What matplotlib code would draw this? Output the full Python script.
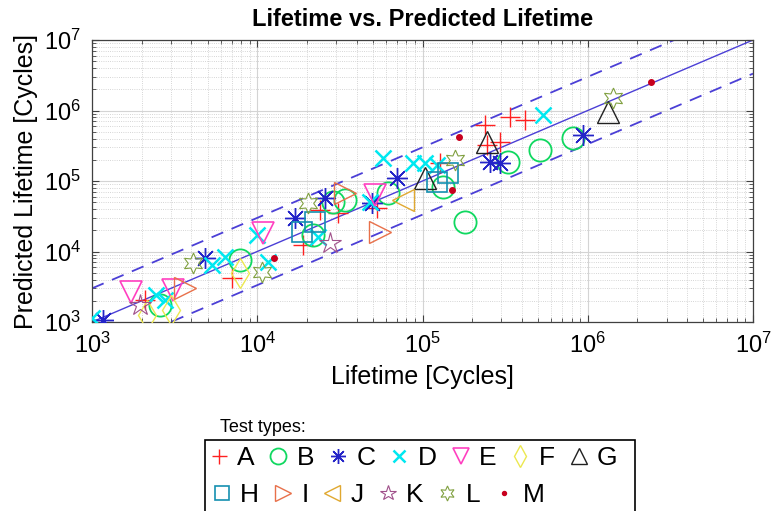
import numpy as np
import matplotlib.pyplot as plt
from matplotlib.patches import Rectangle

plt.rcParams['font.family'] = ['Liberation Sans', 'DejaVu Sans']

# lifetime (x) and predicted lifetime (y) per test type, in cycles
life_a = [2090, 7030, 18900, 23940, 30780, 52980, 127400, 238500, 245300, 294000, 338000, 416000]
pred_a = [2053, 4210, 12360, 38820, 35150, 41400, 180000, 622000, 324600, 357000, 809000, 733000]
life_b = [2580, 7860, 21730, 28720, 33940, 61800, 132800, 180500, 328600, 512600, 812000]
pred_b = [1742, 7570, 17130, 50350, 53760, 67600, 82200, 26200, 186100, 275400, 407700]
life_c = [1165, 4830, 16900, 25680, 49400, 70000, 255800, 294000, 933000]
pred_c = [1070, 8090, 29850, 57400, 48740, 110500, 186100, 180000, 448600]
life_d = [1000, 2440, 2765, 5320, 6380, 9950, 11600, 23300, 48100, 57500, 87500, 103400, 122300, 534500]
pred_d = [1140, 2416, 2053, 6440, 8360, 17130, 7100, 16060, 50350, 211800, 180000, 180000, 168600, 862000]
life_e = [1720, 3090, 10800, 51530]
pred_e = [2666, 2843, 18280, 63260]
life_f = [2150, 3010, 7860]
pred_f = [1257, 1481, 4950]
life_g = [103400, 245300, 1323000]
pred_g = [110500, 357000, 952000]
life_h = [18630, 22340, 122300, 142400]
pred_h = [18920, 26200, 96800, 129700]
life_i = [3650, 33940, 55240]
pred_i = [3035, 67600, 18920]
life_j = [76100]
pred_j = [53760]
life_k = [1950, 27540]
pred_k = [1742, 13210]
life_l = [4080, 10670, 20270, 157100, 1419000]
pred_l = [6870, 5120, 48740, 198600, 1504000]
life_m = [12620, 150600, 166100, 2410000]
pred_m = [8090, 74500, 420700, 2535000]

labels = ['A', 'B', 'C', 'D', 'E', 'F', 'G', 'H', 'I', 'J', 'K', 'L', 'M']
lifes = [life_a, life_b, life_c, life_d, life_e, life_f, life_g,
         life_h, life_i, life_j, life_k, life_l, life_m]
preds = [pred_a, pred_b, pred_c, pred_d, pred_e, pred_f, pred_g,
         pred_h, pred_i, pred_j, pred_k, pred_l, pred_m]

# marker, colour, size, edge width
styles = [
    ('+', '#ff2020', 15, 1.0),
    ('o', '#10d860', 16, 1.3),
    ((8, 2, 0), '#2424c8', 15, 1.0),
    ('x', '#00e8f0', 12, 1.8),
    ('v', '#ff40c0', 16, 1.2),
    ('d', '#ece850', 15, 1.0),
    ('^', '#202020', 16, 1.0),
    ('s', '#1590b0', 14, 1.2),
    ('>', '#e8704a', 16, 1.0),
    ('<', '#e0a830', 16, 1.0),
    ('*', '#a0508a', 16, 0.8),
    ((6, 1, 0), '#80a040', 15, 0.8),
    ('.', '#c8001e', 8, 1.0),
]

fig = plt.figure(figsize=(7.71, 5.11), dpi=100)
ax = fig.add_axes([92/771, 1-322/511, 661/771, 282/511])

line_col = '#4b3fd6'
xx = np.array([1e3, 1e7])
ax.plot(xx, xx, color=line_col, lw=1.0, zorder=2)
ax.plot(xx, xx*3, color=line_col, lw=1.3, ls=(0, (7, 5)), zorder=2)
ax.plot(xx, xx/3, color=line_col, lw=1.3, ls=(0, (7, 5)), zorder=2)

handles = []
for lx, ly, lab, (mk, col, ms, mew) in zip(lifes, preds, labels, styles):
    fc = col if mk == '.' else 'none'
    h, = ax.plot(lx, ly, ls='none', marker=mk, ms=ms, mew=mew,
                 mec=col, mfc=fc, label=lab, zorder=3)
    handles.append(h)

ax.set_xscale('log')
ax.set_yscale('log')
ax.set_xlim(1e3, 1e7)
ax.set_ylim(1e3, 1e7)
ax.grid(True, which='major', color='#d4d4d4', lw=0.8, ls='-')
ax.grid(True, which='minor', color='#c8c8c8', lw=0.6, ls=':')
ax.set_axisbelow(True)
ax.tick_params(which='both', direction='in', top=True, right=True, color='#404040')
ax.tick_params(which='major', length=5, labelsize=17, pad=8)
ax.tick_params(which='minor', length=3)
for s in ax.spines.values():
    s.set_color('#404040')
    s.set_linewidth(0.9)

ax.set_title('Lifetime vs. Predicted Lifetime', fontsize=17, fontweight='bold', pad=10)
ax.set_xlabel('Lifetime [Cycles]', fontsize=18, labelpad=5)
ax.set_ylabel('Predicted Lifetime [Cycles]', fontsize=18, labelpad=4)

# legend below, two rows inside one box
leg_kw = dict(frameon=False, fontsize=19, markerscale=0.72, handlelength=0.8,
              handletextpad=0.3, columnspacing=0.5, borderpad=0, borderaxespad=0,
              loc='center left', bbox_transform=fig.transFigure)
leg1 = fig.legend(handles[:7], labels[:7], ncol=7,
                  bbox_to_anchor=(208/771, 1-458/511), **leg_kw)
leg2 = fig.legend(handles[7:], labels[7:], ncol=6,
                  bbox_to_anchor=(211/771, 1-495/511), **leg_kw)
fig.add_artist(Rectangle((205/771, -0.05), 430/771, 0.05+(1-440/511),
                         transform=fig.transFigure, fill=False,
                         ec='black', lw=1.2, clip_on=False))
fig.text(220/771, 1-427/511, 'Test types:', fontsize=13, va='center', ha='left')

fig.savefig('out.png', dpi=100)
